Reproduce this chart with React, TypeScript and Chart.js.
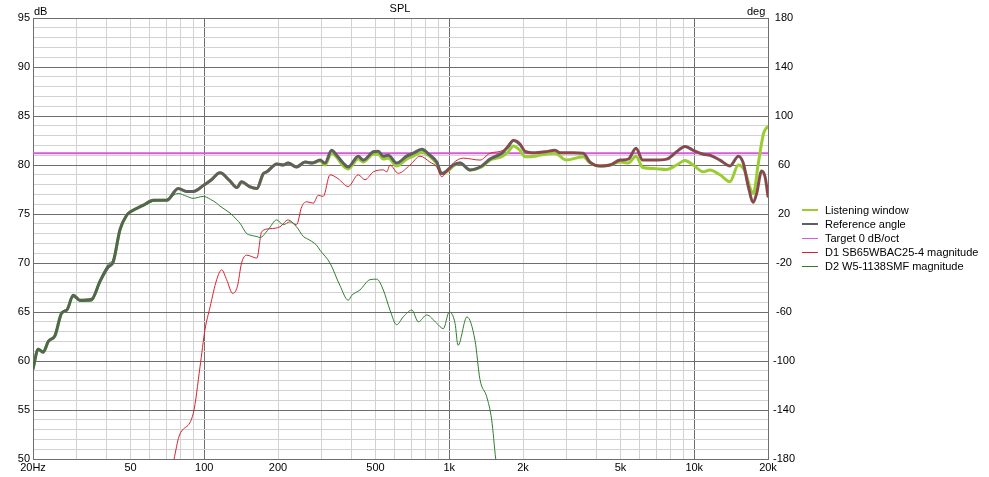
import React, { useEffect, useRef } from "react";
import { Chart, registerables } from "chart.js";

Chart.register(...registerables);

// Frequencies (Hz) and SPL (dB)
const refFreq = [20, 21, 22, 23.1, 24.6, 26.2, 27.5, 29.2, 31.1, 34.7, 37.5, 40.6, 42.5, 45.3, 48.3, 49.8, 56.4, 62, 70.3, 78.3, 84.8, 90.2, 99.1, 107, 116, 127, 136, 142, 153, 164, 174, 180, 198, 210, 220, 238, 258, 275, 297, 311, 331, 347, 369, 387, 425, 446, 490, 513, 538, 564, 610, 670, 713, 772, 834, 889, 931, 976, 1039, 1107, 1216, 1356, 1466, 1637, 1742, 1826, 1944, 2038, 2239, 2460, 2702, 2832, 3209, 3524, 3754, 4124, 4529, 4976, 5383, 5786, 6161, 6808, 7718, 8476, 9162, 9908, 10890, 11594, 12736, 13996, 15136, 15850, 16620, 17420, 17978, 18840, 19456, 20000];
const refDb = [59.2, 61.2, 60.9, 62.0, 62.6, 64.9, 65.2, 66.7, 66.2, 66.3, 68.1, 69.6, 70.1, 73.4, 74.9, 75.2, 75.9, 76.4, 76.4, 77.6, 77.3, 77.3, 77.9, 78.5, 79.2, 78.4, 77.7, 78.3, 77.8, 77.6, 79.1, 79.3, 80.1, 80.0, 80.2, 79.8, 80.3, 80.2, 80.5, 80.2, 81.5, 81.0, 80.2, 79.8, 80.9, 80.5, 81.35, 81.4, 80.9, 81.0, 80.2, 80.9, 81.2, 81.6, 81.0, 80.3, 79.1, 79.4, 80.0, 80.2, 79.5, 79.9, 80.6, 81.2, 81.9, 82.5, 82.1, 81.4, 81.25, 81.35, 81.5, 81.25, 81.25, 81.2, 80.3, 79.9, 80.0, 80.5, 80.6, 81.7, 80.5, 80.5, 80.6, 81.35, 81.9, 81.5, 81.1, 81.0, 80.5, 79.9, 80.9, 80.2, 77.8, 76.2, 77.1, 79.4, 78.8, 76.8];

const lwFreq = [20, 21, 22, 23.1, 24.6, 26.2, 27.5, 29.2, 31.1, 34.7, 37.5, 40.6, 42.5, 45.3, 48.3, 49.8, 56.4, 62, 70.3, 78.3, 84.8, 90.2, 99.1, 107, 116, 127, 136, 142, 153, 164, 174, 180, 198, 210, 220, 238, 258, 275, 297, 311, 331, 347, 369, 387, 425, 446, 490, 513, 538, 564, 610, 670, 713, 772, 834, 889, 931, 976, 1039, 1107, 1216, 1356, 1466, 1637, 1742, 1826, 1944, 2038, 2239, 2460, 2702, 3000, 3524, 3754, 4124, 4529, 4976, 5383, 5786, 6161, 6808, 7718, 8476, 9162, 9908, 10890, 11594, 12736, 13996, 15136, 16000, 17420, 18270, 19170, 19600, 20000];
const lwDb = [59.2, 61.2, 60.9, 62.0, 62.6, 64.9, 65.2, 66.7, 66.2, 66.3, 68.1, 69.6, 70.1, 73.4, 74.9, 75.2, 75.9, 76.4, 76.4, 77.6, 77.3, 77.3, 77.9, 78.5, 79.2, 78.4, 77.7, 78.3, 77.8, 77.6, 79.1, 79.3, 80.1, 80.0, 80.2, 79.8, 80.3, 80.2, 80.4, 80.0, 81.2, 80.8, 79.9, 79.6, 80.6, 80.3, 81.1, 81.1, 80.6, 80.7, 79.9, 80.6, 80.9, 81.3, 80.85, 80.1, 79.15, 79.3, 79.9, 80.2, 79.5, 79.8, 80.5, 80.85, 81.35, 81.95, 81.5, 80.85, 80.9, 81.1, 81.2, 80.5, 80.85, 80.2, 79.9, 80.0, 80.3, 80.2, 80.9, 79.75, 79.65, 79.55, 80.0, 80.45, 80.0, 79.3, 79.5, 79.0, 78.3, 80.0, 79.5, 77.1, 80.2, 83.2, 83.7, 83.9];

const targetFreq = [20, 20000];
const targetDb = [81.2, 81.2];

const d1Freq = [75.3, 78.9, 90.2, 96.1, 100.7, 105.6, 112.4, 117.8, 123.4, 130.6, 136.5, 142, 149, 164, 171.6, 185.5, 203.8, 220, 238, 250, 262, 278.6, 292, 306, 326, 352, 387, 425, 453, 490, 538, 556, 573, 619, 692, 760, 834, 889, 931, 976, 1039, 1142, 1335, 1466, 1662, 1826, 1944, 2038, 2239, 2460, 2702, 2832, 3209, 3524, 3754, 4124, 4529, 4976, 5383, 5786, 6161, 6808, 7718, 8476, 9162, 9908, 10890, 11594, 12736, 13996, 15136, 15850, 16620, 17420, 17978, 18840, 19456, 20000];
const d1Db = [50.0, 52.3, 54.65, 59.4, 63.2, 65.5, 68.3, 69.3, 68.3, 66.9, 67.6, 70.0, 70.8, 70.5, 73.2, 73.5, 73.7, 74.4, 73.9, 75.75, 76.25, 76.1, 76.9, 76.8, 79.0, 78.6, 77.8, 79.0, 78.5, 79.3, 79.5, 79.3, 80.0, 79.15, 80.0, 80.9, 80.3, 79.8, 78.8, 79.3, 80.2, 80.7, 80.5, 81.2, 81.5, 82.55, 82.3, 81.4, 81.25, 81.35, 81.5, 81.25, 81.25, 81.2, 80.3, 79.9, 80.0, 80.5, 80.6, 81.7, 80.5, 80.5, 80.6, 81.35, 81.9, 81.5, 81.1, 81.0, 80.5, 79.9, 80.9, 80.2, 77.8, 76.2, 77.1, 79.4, 78.8, 76.8];

const d2Freq = [20, 21, 22, 23.1, 24.6, 26.2, 27.5, 29.2, 31.1, 34.7, 37.5, 40.6, 42.5, 45.3, 48.3, 49.8, 56.4, 62, 70.3, 78.3, 84.8, 90.2, 99.1, 106, 112.4, 116, 127.4, 136, 140, 149, 153.8, 164, 168.9, 182.4, 197.6, 210, 223.8, 238, 253.8, 262, 287.8, 297, 326, 358, 387, 400, 432, 475, 506, 538, 573, 610, 649, 703, 748, 809, 889, 946, 1000, 1056, 1086, 1181, 1274, 1335, 1422, 1490, 1548, 1600];
const d2Db = [59.3, 61.3, 60.9, 62.1, 62.7, 65.0, 65.3, 66.5, 66.1, 66.1, 68.3, 69.9, 70.4, 73.2, 74.8, 75.2, 75.8, 76.3, 76.5, 77.1, 76.8, 76.6, 76.8, 76.5, 76.1, 75.8, 75.1, 74.4, 74.05, 73.0, 72.85, 72.7, 72.6, 73.4, 74.4, 73.9, 74.2, 73.7, 72.7, 72.5, 71.8, 71.3, 70.0, 67.7, 66.2, 66.7, 67.25, 68.3, 68.35, 67.25, 65.2, 63.7, 64.5, 65.2, 64.0, 64.7, 63.85, 63.3, 65.0, 63.85, 61.6, 64.5, 62.1, 58.1, 56.35, 54.0, 50.0, 47.5];

// Axis ticks
const xGridTicks = [20, 30, 40, 50, 60, 70, 80, 90, 100, 200, 300, 400, 500, 600, 700, 800, 900, 1000, 2000, 3000, 4000, 5000, 6000, 7000, 8000, 9000, 10000, 20000];
const xMajorTicks = [20, 100, 1000, 10000, 20000];
const xTickLabels: Record<number, string> = { 20: "20Hz", 50: "50", 100: "100", 200: "200", 500: "500", 1000: "1k", 2000: "2k", 5000: "5k", 10000: "10k", 20000: "20k" };
const dbMin = 50;
const dbMax = 95;
const degTicks = [-180, -140, -100, -60, -20, 20, 60, 100, 140, 180];

const legendItems = [
  { label: "Listening window", color: "#9acd32", width: 2 },
  { label: "Reference angle", color: "#5f5f5f", width: 2 },
  { label: "Target 0 dB/oct", color: "#d75ad7", width: 1 },
  { label: "D1 SB65WBAC25-4 magnitude", color: "#d8222e", width: 1 },
  { label: "D2 W5-1138SMF magnitude", color: "#2f7d2f", width: 1 },
];

const FONT = '"Liberation Sans", Arial, sans-serif';
const MINOR = "#d2d2d2";
const MAJOR = "#6e6e6e";

export default function App() {
  const canvasRef = useRef<HTMLCanvasElement>(null);

  useEffect(() => {
    const el = canvasRef.current;
    if (!el) return;
    const mk = (f: number[], d: number[]) => f.map((x, i) => ({ x, y: d[i] }));
    const font = { family: FONT, size: 11 };
    const dbTicks: number[] = [];
    for (let v = dbMin; v <= dbMax; v++) dbTicks.push(v);

    const chart = new Chart(el, {
      type: "line",
      data: {
        datasets: [
          { label: "Target 0 dB/oct", data: mk(targetFreq, targetDb), borderColor: "#d75ad7", borderWidth: 2, order: 6 },
          { label: "Listening window", data: mk(lwFreq, lwDb), borderColor: "#9acd32", borderWidth: 3, order: 5 },
          { label: "Reference angle", data: mk(refFreq, refDb), borderColor: "#5f5f5f", borderWidth: 3, order: 4 },
          { label: "D1 SB65WBAC25-4 magnitude", data: mk(d1Freq, d1Db), borderColor: "#d8222e", borderWidth: 1, order: 2 },
          { label: "D2 W5-1138SMF magnitude", data: mk(d2Freq, d2Db), borderColor: "#2f7d2f", borderWidth: 1, order: 1 },
        ] as any,
      },
      options: {
        responsive: false,
        animation: false,
        events: [],
        elements: {
          point: { radius: 0 },
          line: { cubicInterpolationMode: "monotone", borderJoinStyle: "round", borderCapStyle: "round" },
        },
        layout: { padding: { top: 18, left: 0, right: 0, bottom: 0 } },
        plugins: { legend: { display: false }, tooltip: { enabled: false }, title: { display: false } },
        scales: {
          x: {
            type: "logarithmic",
            position: "bottom",
            min: 20,
            max: 20000,
            afterBuildTicks: (s: any) => {
              s.ticks = xGridTicks.map((v) => ({ value: v }));
            },
            afterFit: (s: any) => {
              s.height = 18;
            },
            ticks: {
              autoSkip: false,
              maxRotation: 0,
              minRotation: 0,
              padding: 2,
              color: "#000",
              font,
              callback: (v: any) => xTickLabels[Number(v)] ?? "",
            },
            grid: {
              drawTicks: false,
              lineWidth: 1,
              color: (c: any) => (c.tick && xMajorTicks.includes(c.tick.value) ? MAJOR : MINOR),
            },
            border: { display: true, color: MAJOR, width: 1 },
          },
          y: {
            type: "linear",
            position: "left",
            min: dbMin,
            max: dbMax,
            afterBuildTicks: (s: any) => {
              s.ticks = dbTicks.map((v) => ({ value: v }));
            },
            afterFit: (s: any) => {
              s.width = 33;
            },
            ticks: {
              autoSkip: false,
              padding: 3,
              color: "#000",
              font,
              callback: (v: any) => (Number(v) % 5 === 0 ? String(v) : ""),
            },
            grid: {
              drawTicks: false,
              lineWidth: 1,
              color: (c: any) => (c.tick && c.tick.value % 5 === 0 ? MAJOR : MINOR),
            },
            border: { display: true, color: MAJOR, width: 1 },
          },
          y2: {
            type: "linear",
            position: "right",
            min: -180,
            max: 180,
            afterBuildTicks: (s: any) => {
              s.ticks = degTicks.map((v) => ({ value: v }));
            },
            afterFit: (s: any) => {
              s.width = 221;
            },
            ticks: {
              autoSkip: false,
              padding: 5,
              crossAlign: "center",
              color: "#000",
              font,
              callback: (v: any) => String(v),
            },
            grid: { drawOnChartArea: false, drawTicks: false },
            border: { display: true, color: MAJOR, width: 1 },
          },
        },
      } as any,
    });
    return () => chart.destroy();
  }, []);

  const textStyle: React.CSSProperties = {
    position: "absolute",
    fontFamily: FONT,
    fontSize: 11,
    lineHeight: "13px",
    color: "#000",
    whiteSpace: "nowrap",
  };

  return (
    <div style={{ position: "absolute", left: 0, top: 0, width: 989, height: 477, background: "#fff" }}>
      <canvas ref={canvasRef} width={989} height={477} style={{ display: "block", width: 989, height: 477 }} />
      <div style={{ ...textStyle, left: 400, top: 2, transform: "translateX(-50%)" }}>SPL</div>
      <div style={{ ...textStyle, left: 34, top: 5 }}>dB</div>
      <div style={{ ...textStyle, left: 747, top: 5 }}>deg</div>
      <div style={{ ...textStyle, left: 802, top: 203 }}>
        {legendItems.map((it) => (
          <div key={it.label} style={{ display: "flex", alignItems: "center", height: 14 }}>
            <span style={{ display: "inline-block", width: 16, height: it.width, background: it.color, marginRight: 7 }} />
            <span>{it.label}</span>
          </div>
        ))}
      </div>
    </div>
  );
}
